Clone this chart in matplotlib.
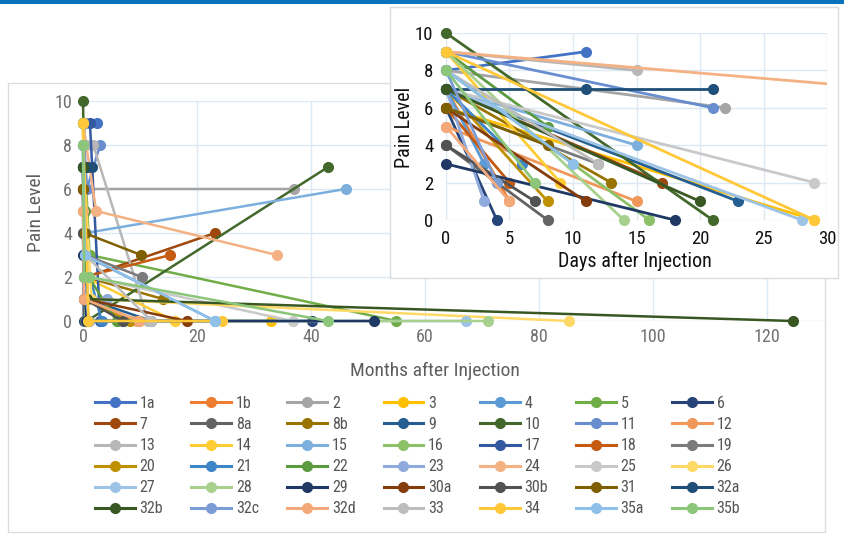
import matplotlib
matplotlib.use('Agg')
import matplotlib.pyplot as plt
from matplotlib.lines import Line2D
from matplotlib.patches import Rectangle
from matplotlib import font_manager as fm
import numpy as np

names = {f.name for f in fm.fontManager.ttflist}
FONT = 'DejaVu Sans'
for cand in ['Liberation Sans Narrow', 'Roboto Condensed', 'Open Sans Condensed', 'Liberation Sans']:
    if cand in names:
        FONT = cand
        break
plt.rcParams['font.family'] = [FONT, 'DejaVu Sans']

# ---------------- data ----------------
labels = ['1a', '1b', '2', '3', '4', '5', '6', '7', '8a', '8b', '9', '10', '11', '12',
          '13', '14', '15', '16', '17', '18', '19', '20', '21', '22', '23', '24', '25', '26',
          '27', '28', '29', '30a', '30b', '31', '32a', '32b', '32c', '32d', '33', '34', '35a', '35b']

colors = ['#4472C4', '#ED7D31', '#A5A5A5', '#FFC000', '#5B9BD5', '#70AD47', '#264478',
          '#9E480E', '#636363', '#997300', '#255E91', '#43682B', '#698ED0', '#F1975A',
          '#B7B7B7', '#FFCD33', '#7CAFDD', '#8CC168', '#335AA1', '#C55A11', '#7B7B7B',
          '#BF9000', '#3D85C6', '#5B9A3E', '#8FAADC', '#F4B183', '#C9C9C9', '#FFD966',
          '#9DC3E6', '#A9D18E', '#203864', '#843C0C', '#525252', '#7F6000', '#1F4E79',
          '#385723', '#7C9CD6', '#F4A97A', '#BDBDBD', '#FFC838', '#8EC0EA', '#8CC67A']

# follow-up time of each assessment, in days after injection
days = [
    [0, 11, 76], [0, 5, 300], [0, 22, 1125], [0, 29, 1003], [0, 3, 705], [0, 35, 1672],
    [0, 4, 1222], [0, 17, 705], [0, 8, 213], [0, 13, 426], [0, 23, 365], [0, 21, 1307],
    [0, 21, 91], [0, 15, 290], [0, 15, 55, 347], [0, 9, 490], [0, 15, 1400], [0, 16, 180],
    [0, 37, 91], [0, 5, 466], [0, 12, 313], [0, 8, 250], [0, 6, 100], [0, 8, 30, 180],
    [0, 3, 128], [0, 70, 1034], [0, 29, 1119], [0, 45, 2590], [0, 28, 2043], [0, 14, 2158],
    [0, 18, 1550], [0, 11, 553], [0, 7, 213], [0, 8, 310], [0, 11, 21, 46], [0, 20, 3785],
    [0, 4, 30], [0, 5, 300], [0, 12, 365], [0, 29, 742], [0, 10, 705], [0, 7, 30, 1307]]

# pain level at each assessment
pain = [
    [8, 9, 9], [7, 1, 0], [8, 6, 6], [6, 0, 0], [7, 3, 0], [9, 3, 0],
    [6, 0, 0], [7, 2, 4], [4, 0, 0], [7, 2, 1], [7, 1, 0], [10, 0, 7],
    [9, 6, 8], [5, 1, 0], [9, 8, 8, 0], [9, 2, 0], [7, 4, 6], [8, 0, 0],
    [9, 9, 0], [6, 2, 3], [6, 3, 2], [7, 1, 0], [7, 3, 0], [9, 5, 2, 0],
    [7, 1, 1], [9, 5, 3], [7, 2, 0], [8, 1, 0], [7, 0, 0], [9, 0, 0],
    [3, 0, 0], [6, 1, 0], [4, 1, 0], [6, 4, 3], [7, 7, 7, 7], [7, 1, 0],
    [8, 2, 0], [5, 1, 0], [8, 3, 0], [9, 0, 0], [8, 3, 0], [8, 2, 2, 0]]

# number of leading assessments shown in the days (inset) chart
inset_n = [2, 2, 2, 2, 2, 1, 2, 2, 2, 2, 2, 2, 2, 2, 2, 2, 2, 2, 1, 2, 2,
           2, 2, 2, 2, 2, 2, 1, 2, 2, 2, 2, 2, 2, 3, 2, 2, 2, 2, 2, 2, 2]

DAYS_PER_MONTH = 30.4
month_ticks = [0, 20, 40, 60, 80, 100, 120]
day_ticks = [0, 5, 10, 15, 20, 25, 30]
pain_ticks = [0, 2, 4, 6, 8, 10]

# ---------------- layout ----------------
W, H = 844, 536
fig = plt.figure(figsize=(W / 100, H / 100), dpi=100)
fig.patch.set_facecolor('white')


def fx(px):
    return px / W


def fy(py):
    return 1 - py / H


fig.patches.append(Rectangle((0, fy(4)), 1, 4 / H, transform=fig.transFigure,
                             facecolor='#0B72BE', edgecolor='none', zorder=3))
fig.patches.append(Rectangle((fx(8), fy(532)), (825 - 8) / W, (532 - 83) / H,
                             transform=fig.transFigure, facecolor='white',
                             edgecolor='#DCDCDC', lw=1, zorder=-5))
fig.patches.append(Rectangle((fx(390), fy(278)), (838 - 390) / W, (278 - 7) / H,
                             transform=fig.transFigure, facecolor='white',
                             edgecolor='#DCDCDC', lw=1, zorder=1))

grid_col = '#DCE8F3'
LW = 1.8
MS = 7

# main chart
ax = fig.add_axes([fx(83), fy(321), (825 - 83) / W, (321 - 101) / H], zorder=0)
ax.patch.set_alpha(0)
ax.set_xlim(0, (825 - 83) / 5.7)
ax.set_ylim(0, 10)
ax.set_xticks(month_ticks)
ax.set_yticks(pain_ticks)
ax.grid(True, color=grid_col, lw=1)
ax.set_axisbelow(True)
for s in ax.spines.values():
    s.set_visible(False)
ax.tick_params(length=0, labelsize=13, colors='#707070')
ax.tick_params(axis='x', pad=5)
ax.tick_params(axis='y', pad=8)

for d, p, c in zip(days, pain, colors):
    ax.plot(np.array(d) / DAYS_PER_MONTH, p, color=c, lw=LW, marker='o', ms=MS,
            clip_on=False, solid_capstyle='round')

fig.text(fx(435), fy(371), 'Months after Injection', ha='center', va='center',
         fontsize=14, color='#5E5E5E')
fig.text(fx(36), fy(212), 'Pain Level', ha='center', va='center', rotation=90,
         fontsize=14, color='#5E5E5E')

# inset chart
ax2 = fig.add_axes([fx(446), fy(220), (827 - 446) / W, (220 - 33) / H], zorder=2)
ax2.patch.set_alpha(0)
ax2.set_xlim(0, 30)
ax2.set_ylim(0, 10)
ax2.set_xticks(day_ticks)
ax2.set_yticks(pain_ticks)
ax2.grid(True, color=grid_col, lw=1)
ax2.set_axisbelow(True)
for s in ax2.spines.values():
    s.set_visible(False)
ax2.tick_params(length=0, labelsize=13.5, colors='#111111')
ax2.tick_params(axis='x', pad=7)
ax2.tick_params(axis='y', pad=9)

for d, p, c, n in zip(days, pain, colors, inset_n):
    d = np.array(d[:n])
    p = np.array(p[:n])
    ax2.plot(d, p, color=c, lw=2.0, solid_capstyle='round')
    m = d <= 30
    ax2.plot(d[m], p[m], 'o', color=c, ms=MS, clip_on=False)

fig.text(fx(635), fy(261), 'Days after Injection', ha='center', va='center',
         fontsize=14.5, color='#111111')
fig.text(fx(405), fy(127), 'Pain Level', ha='center', va='center', rotation=90,
         fontsize=14.5, color='#111111')

# legend (row-major like the reference)
handles = [Line2D([], [], color=c, lw=2.2, marker='o', ms=MS) for c in colors]
ncol, nrow = 7, 6
order = [r * ncol + cidx for cidx in range(ncol) for r in range(nrow)]
leg = fig.legend([handles[i] for i in order], [labels[i] for i in order], ncol=ncol,
                 loc='upper left', bbox_to_anchor=(fx(95), fy(396)), frameon=False,
                 fontsize=11.5, handlelength=2.5, handletextpad=0.3, columnspacing=1.75,
                 labelspacing=0.38, borderpad=0, borderaxespad=0)
for t in leg.get_texts():
    t.set_color('#555555')

fig.savefig('out.png', dpi=100)
